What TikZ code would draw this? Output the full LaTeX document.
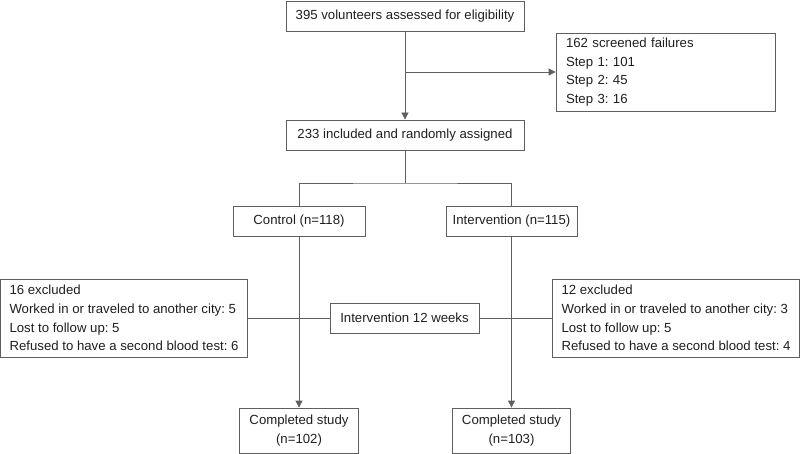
\documentclass[tikz,border=0pt]{standalone}
\usepackage{fontspec}
\setmainfont{Liberation Sans}
\usetikzlibrary{arrows.meta,positioning}
\definecolor{linegray}{RGB}{95,95,95}
\tikzset{box/.style={draw=linegray,line width=0.8pt,inner sep=0pt,font=\fontsize{13.2pt}{18.7pt}\selectfont\frenchspacing,text=black!88},
  listbox/.style={box,align=left,inner xsep=9pt},
  conn/.style={draw=linegray,line width=0.8pt},
  arr/.style={conn,-{Triangle[width=7pt,length=7pt]}}}

\begin{document}
\begin{tikzpicture}[x=1pt,y=-1pt]
        \useasboundingbox (0,0) rectangle (800,454);
        \node[box,minimum width=238pt,minimum height=30pt] (elig) at (405,16) {395 volunteers assessed for eligibility};
        \node[box,minimum width=238pt,minimum height=30pt] (rand) at (405,135) {233 included and randomly assigned};
        \node[listbox,text width=199pt,inner xsep=10pt,minimum height=78pt] (fail) at (665.5,72) {162 screened failures\\Step 1: 101\\Step 2: 45\\Step 3: 16};
        \node[box,minimum width=132pt,minimum height=30pt] (ctrl) at (299,221) {Control (n=118)};
        \node[box,minimum width=131pt,minimum height=30pt] (intv) at (511.5,221) {Intervention (n=115)};
        \node[listbox,minimum width=246pt,minimum height=78pt] (exclC) at (124,318) {16 excluded\\Worked in or traveled to another city: 5\\Lost to follow up: 5\\Refused to have a second blood test: 6};
        \node[listbox,minimum width=246pt,minimum height=78pt] (exclI) at (676,318) {12 excluded\\Worked in or traveled to another city: 3\\Lost to follow up: 5\\Refused to have a second blood test: 4};
        \node[box,minimum width=149pt,minimum height=30pt] (weeks) at (404.5,318) {Intervention 12 weeks};
        \node[box,align=center,minimum width=119pt,minimum height=45pt] (doneC) at (299,430.5) {Completed study\\(n=102)};
        \node[box,align=center,minimum width=118pt,minimum height=45pt] (doneI) at (511.5,430.5) {Completed study\\(n=103)};
        \coordinate (split) at (405,72);
        \coordinate (fork) at (405,183);
        \draw[arr] (elig) -- (rand);
        \draw[arr] (split) -- (fail);
        \draw[conn] (rand) -- (fork);
        \draw[conn] (ctrl.north) |- (fork) -| (intv.north);
        \draw[conn] (exclC) -- (weeks);
        \draw[conn] (weeks) -- (exclI);
        \draw[arr] (ctrl) -- (doneC);
        \draw[arr] (intv) -- (doneI);
    \end{tikzpicture}
\end{document}
